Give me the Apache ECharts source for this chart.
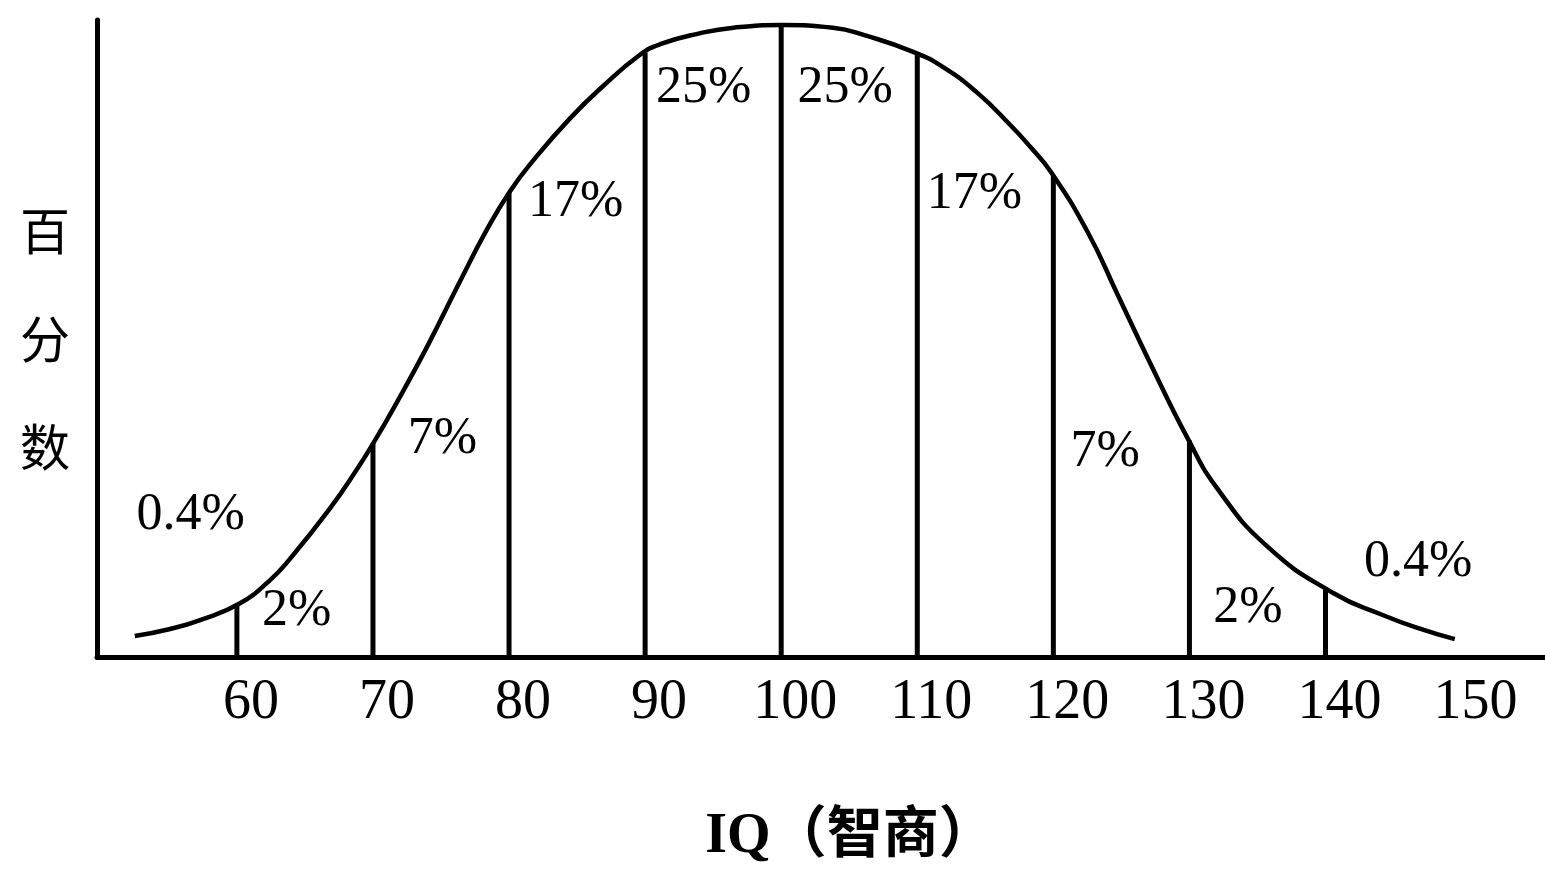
<!DOCTYPE html>
<html>
<head>
<meta charset="utf-8">
<script src="https://cdn.jsdelivr.net/npm/echarts@6/dist/echarts.min.js"></script>
<style>
  html, body { margin: 0; padding: 0; background: #fff; overflow: hidden; }
  #chart { width: 100vw; height: 100vh; }
</style>
</head>
<body>
<div id="chart"></div>
<script>
// Bell curve (IQ value, relative height 0-100)
const curveIQ = [52.5, 55.1, 57.3, 60.2, 62.4, 63.9, 66.8, 68.8, 70.2, 71.5, 74.0, 76.4, 78.4, 80.1, 81.8, 84.5, 86.9, 89.6, 91.1, 94.0, 96.5, 100.1, 103.8, 106.3, 109.7, 111.9, 114.4, 116.8, 118.3, 119.8, 122.5, 124.7, 127.1, 129.9, 132.0, 135.7, 140.6, 144.2, 146.7, 149.5];
const curveHeight = [3.3, 4.4, 5.8, 8.4, 12.0, 15.4, 23.2, 29.4, 34.2, 39.0, 48.8, 59.0, 67.2, 73.2, 78.0, 84.6, 89.6, 94.5, 96.2, 97.9, 98.8, 99.2, 98.8, 97.5, 95.0, 92.6, 88.6, 83.6, 80.1, 76.2, 66.8, 57.0, 46.2, 34.2, 26.6, 17.4, 10.0, 6.6, 4.6, 2.8];

// Boundary lines at IQ 60..140 (height where they meet the curve)
const boundaryIQ = [60, 70, 80, 90, 100, 110, 120, 130, 140];
const boundaryHeight = [8.2, 33.5, 72.9, 94.9, 99.2, 94.7, 75.5, 34.0, 10.9];

// Share of population in each band
const bandLabels = ['0.4%', '2%', '7%', '17%', '25%', '25%', '17%', '7%', '2%', '0.4%'];
const bandLabelIQ = [56.6, 64.4, 75.1, 84.9, 94.3, 104.7, 114.2, 123.8, 134.3, 146.8];
const bandLabelHeight = [22.3, 7.2, 34.2, 71.3, 89.2, 89.2, 72.7, 32.1, 7.6, 14.8];

// Axis tick labels
const xTickValues = [60, 70, 80, 90, 100, 110, 120, 130, 140, 150];

const chart = echarts.init(document.getElementById('chart'));
const serif = '"Liberation Serif", "Times New Roman", serif';
const cjk = '"Noto Sans CJK SC", "Noto Sans", sans-serif';

const curveData = curveIQ.map((x, i) => [x, curveHeight[i]]);
const boundaryData = boundaryIQ.map((x, i) => [x, boundaryHeight[i]]);
const labelData = bandLabels.map((t, i) => ({ name: t, value: [bandLabelIQ[i], bandLabelHeight[i]] }));

chart.setOption({
  backgroundColor: '#ffffff',
  animation: false,
  grid: { left: 97, right: 0, top: 20, bottom: 210, containLabel: false },
  xAxis: {
    type: 'value',
    min: 49.72,
    max: 156.13,
    name: 'IQ（智商）',
    nameLocation: 'middle',
    nameGap: 153,
    nameTextStyle: {
      fontFamily: '"Liberation Serif", "Noto Sans CJK SC", serif',
      fontWeight: 'bold',
      fontSize: 56,
      color: '#000',
      padding: [0, 0, 0, 58]
    },
    axisLine: { show: true, onZero: false, lineStyle: { color: '#000', width: 5 } },
    axisTick: { show: false },
    splitLine: { show: false },
    axisLabel: {
      customValues: xTickValues,
      fontFamily: serif,
      fontSize: 56,
      color: '#000',
      margin: 18,
      padding: [0, 0, 0, 28]
    }
  },
  yAxis: {
    type: 'value',
    min: 0,
    max: 100,
    name: '百\n分\n数',
    nameLocation: 'middle',
    nameRotate: 0,
    nameGap: 27,
    nameTextStyle: {
      fontFamily: cjk,
      fontSize: 50,
      lineHeight: 108,
      color: '#000'
    },
    axisLine: { show: true, lineStyle: { color: '#000', width: 5 } },
    axisTick: { show: false },
    axisLabel: { show: false },
    splitLine: { show: false }
  },
  series: [
    {
      type: 'bar',
      data: boundaryData,
      barWidth: 5,
      itemStyle: { color: '#000' },
      z: 2
    },
    {
      type: 'line',
      data: curveData,
      smooth: 0.5,
      showSymbol: false,
      symbol: 'none',
      lineStyle: { color: '#000', width: 4.5 },
      z: 3
    },
    {
      type: 'scatter',
      data: labelData,
      symbolSize: 1,
      itemStyle: { color: 'rgba(255,255,255,0)', opacity: 1 },
      label: {
        show: true,
        position: 'inside',
        formatter: '{b}',
        fontFamily: serif,
        fontSize: 52,
        color: '#000',
        opacity: 1
      },
      emphasis: { disabled: true },
      z: 4
    }
  ]
});
window.addEventListener('resize', () => chart.resize());
</script>
</body>
</html>
